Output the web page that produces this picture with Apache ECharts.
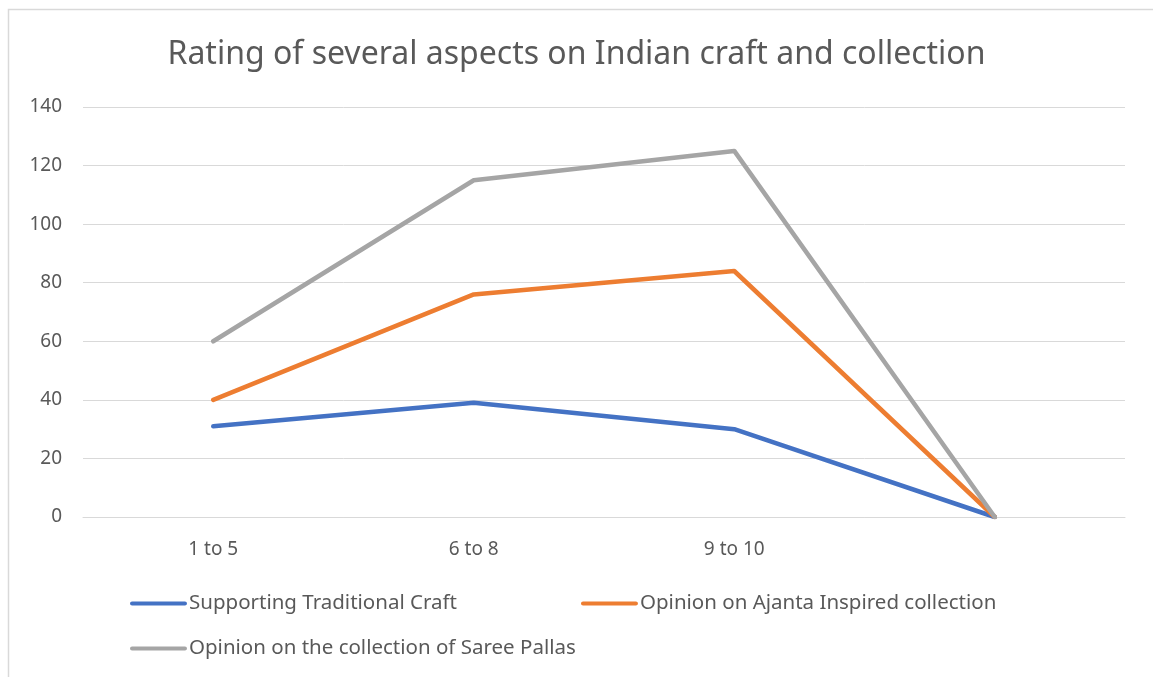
<!DOCTYPE html>
<html>
<head>
<meta charset="utf-8">
<script src="https://cdn.jsdelivr.net/npm/echarts@6/dist/echarts.min.js"></script>
<style>
html,body{margin:0;padding:0;background:#fff;}
#chart{width:1153px;height:677px;}
</style>
</head>
<body>
<div id="chart"></div>
<script>
var titleText = 'Rating of several aspects on Indian craft and collection';
var categories = ['1 to 5', '6 to 8', '9 to 10', ''];
var seriesNames = ['Supporting Traditional Craft', 'Opinion on Ajanta Inspired collection', 'Opinion on the collection of Saree Pallas'];
var supportingCraft = [31, 39, 30, 0];
var ajantaOpinion = [40, 76, 84, 0];
var sareePallasOpinion = [60, 115, 125, 0];
var yTicks = [0, 20, 40, 60, 80, 100, 120, 140];
var colors = ['#4472C4', '#ED7D31', '#A5A5A5'];

var font = '"Noto Sans", sans-serif';
var chart = echarts.init(document.getElementById('chart'), null, {renderer: 'canvas'});
var values = [supportingCraft, ajantaOpinion, sareePallasOpinion];
var legendIcon = 'path://M2,0 L53,0 A2,2 0 0 1 53,4 L2,4 A2,2 0 0 1 2,0 Z';

chart.setOption({
  backgroundColor: '#ffffff',
  animation: false,
  graphic: [{
    type: 'rect', left: 6, top: 7,
    shape: {width: 1200, height: 720},
    style: {fill: 'none', stroke: '#d9d9d9', lineWidth: 1.5}
  }],
  title: {
    text: titleText, left: 'center', top: 34,
    textStyle: {fontFamily: font, fontSize: 32, fontWeight: 'normal', color: '#595959'}
  },
  legend: [{
    data: [seriesNames[0], seriesNames[1]],
    left: 130, top: 593, itemGap: 124, padding: 0,
    icon: legendIcon, itemWidth: 57, itemHeight: 5,
    textStyle: {fontFamily: font, fontSize: 20.5, color: '#595959', padding: [0, 0, 0, -3]}
  }, {
    data: [seriesNames[2]],
    left: 130, top: 638, padding: 0,
    icon: legendIcon, itemWidth: 57, itemHeight: 5,
    textStyle: {fontFamily: font, fontSize: 20.5, color: '#595959', padding: [0, 0, 0, -3]}
  }],
  grid: {left: 83, right: 28, top: 107, bottom: 160, containLabel: false},
  xAxis: {
    type: 'category', data: categories, boundaryGap: true,
    axisLine: {lineStyle: {color: '#d9d9d9', width: 1}},
    axisTick: {show: false},
    axisLabel: {fontFamily: font, fontSize: 19, color: '#595959', margin: 23}
  },
  yAxis: {
    type: 'value', min: yTicks[0], max: yTicks[yTicks.length - 1], interval: 20,
    axisLine: {show: false}, axisTick: {show: false},
    splitLine: {lineStyle: {color: '#d9d9d9', width: 1}},
    axisLabel: {fontFamily: font, fontSize: 19, color: '#595959', margin: 21}
  },
  series: seriesNames.map(function (n, i) {
    return {
      name: n, type: 'line', data: values[i], color: colors[i],
      symbol: 'none', showSymbol: false,
      lineStyle: {width: 4.5, color: colors[i], cap: 'round', join: 'round'}
    };
  })
});
</script>
</body>
</html>
